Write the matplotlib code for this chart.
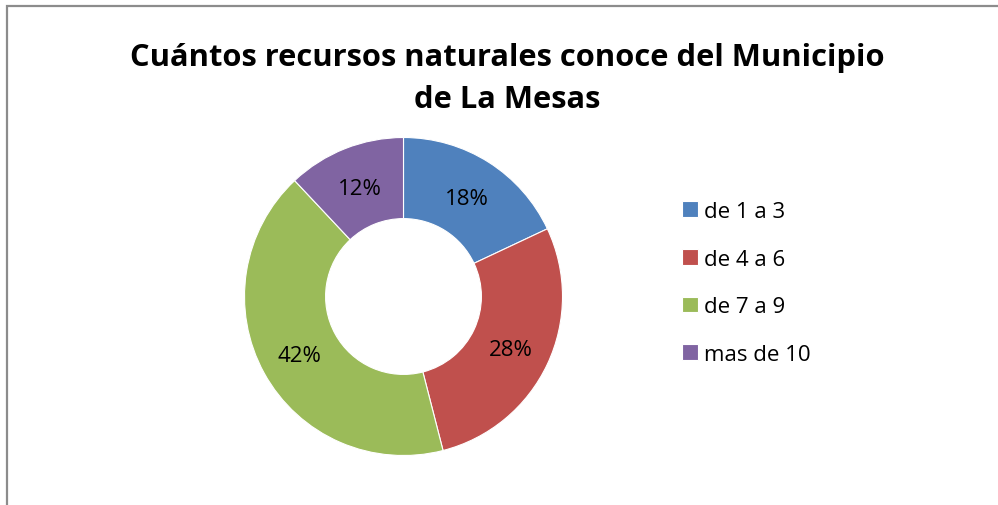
import matplotlib.pyplot as plt
from matplotlib.patches import Rectangle

# data
categorias = ["de 1 a 3", "de 4 a 6", "de 7 a 9", "mas de 10"]
valores = [18, 28, 42, 12]
colores = ["#4F81BD", "#C0504D", "#9BBB59", "#8064A2"]
titulo = "Cuántos recursos naturales conoce del Municipio\nde La Mesas"

plt.rcParams['font.family'] = ['Open Sans', 'DejaVu Sans']

W, H = 998, 506
fig = plt.figure(figsize=(W / 100, H / 100), dpi=100)

# chart frame (gray border, runs off the right/bottom edge)
fig.patches.append(Rectangle((6.5 / W, -0.1), 1.2, (H - 7) / H + 0.1,
                             transform=fig.transFigure, fill=False,
                             edgecolor="#8c8c8c", linewidth=1.6))

fig.text(507 / W, 1 - 79 / H, titulo, ha="center", va="center",
         fontsize=22.2, fontweight="bold", linespacing=1.5)

cx, cy, r = 403.5, 297.5, 159
ax = fig.add_axes([(cx - r) / W, (H - cy - r) / H, 2 * r / W, 2 * r / H])
wedges, texts, autotexts = ax.pie(
    valores, colors=colores, startangle=90, counterclock=False,
    radius=1, autopct="%d%%", pctdistance=0.745,
    wedgeprops=dict(width=0.51, edgecolor="white", linewidth=0.8),
    textprops=dict(fontsize=16, color="black"))
for t in autotexts:
    x, y = t.get_position()
    t.set_position((x, y - 0.015))
ax.set_xlim(-1, 1)
ax.set_ylim(-1, 1)
ax.set_aspect("equal")

leg = fig.legend(wedges, categorias, loc="upper left",
                 bbox_to_anchor=(662 / W, 1 - 182 / H), frameon=False,
                 fontsize=16, handlelength=0.7, handleheight=0.7,
                 handletextpad=0.3, labelspacing=1.2)

fig.savefig("out.png", dpi=100, facecolor="white")
